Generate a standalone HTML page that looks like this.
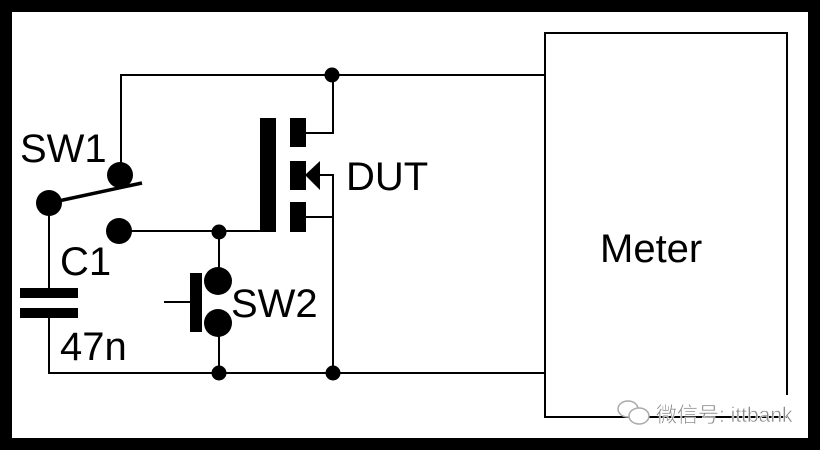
<!DOCTYPE html>
<html><head><meta charset="utf-8"><style>
html,body{margin:0;padding:0;background:#000;}
svg{display:block;}
text{font-family:"Liberation Sans","Noto Sans CJK SC",sans-serif;fill:#000;}
</style></head><body>
<svg width="820" height="450" viewBox="0 0 820 450" xmlns="http://www.w3.org/2000/svg">
<rect x="0" y="0" width="820" height="450" fill="#000"/>
<rect x="12" y="12" width="796" height="426" fill="#fff"/>
<g stroke="#000" stroke-width="2" fill="none">
  <path d="M787 395 V33 H545 V417 H787"/>
  <path d="M121 175 V75 H545"/>
  <path d="M333 75 V133 H306"/>
  <path d="M320 175 H333 V373"/>
  <path d="M306 217 H333"/>
  <path d="M119 231 H261"/>
  <path d="M219 231 V281"/>
  <path d="M219 323 V373"/>
  <path d="M164 302 H191"/>
  <path d="M49 203 V289"/>
  <path d="M49 317 V373 H545"/>
</g>
<line x1="49" y1="203" x2="142" y2="183" stroke="#000" stroke-width="3.5"/>
<g fill="#000">
  <rect x="260" y="118" width="16" height="114"/>
  <rect x="290" y="118" width="16" height="29"/>
  <rect x="290" y="161" width="16" height="29"/>
  <rect x="290" y="202" width="16" height="30"/>
  <polygon points="305,175 320,161 320,190"/>
  <rect x="20" y="288" width="58" height="10"/>
  <rect x="20" y="308" width="58" height="10"/>
  <rect x="190" y="273" width="12" height="59"/>
  <circle cx="120" cy="175" r="13"/>
  <circle cx="49" cy="203" r="13"/>
  <circle cx="119" cy="231" r="13"/>
  <circle cx="218" cy="281" r="14"/>
  <circle cx="218" cy="323" r="14"/>
  <circle cx="332" cy="75" r="7.5"/>
  <circle cx="219" cy="232" r="7.5"/>
  <circle cx="219" cy="373" r="7.5"/>
  <circle cx="333" cy="373" r="7.5"/>
</g>
<text x="20" y="162" font-size="40">SW1</text>
<text x="346" y="190" font-size="40">DUT</text>
<text x="60" y="275" font-size="40">C1</text>
<text x="60" y="360" font-size="40">47n</text>
<text x="231" y="317" font-size="40">SW2</text>
<text x="600" y="262" font-size="40">Meter</text>
<g stroke="#aaa" stroke-width="1.5" fill="#fff">
  <ellipse cx="628" cy="409" rx="10" ry="8"/>
  <ellipse cx="639" cy="416" rx="10" ry="8"/>
</g>
<text x="656" y="422" font-size="21" style="fill:#8a8a8a;stroke:#fff;stroke-width:0.5">微信号: ittbank</text>
</svg>
</body></html>
